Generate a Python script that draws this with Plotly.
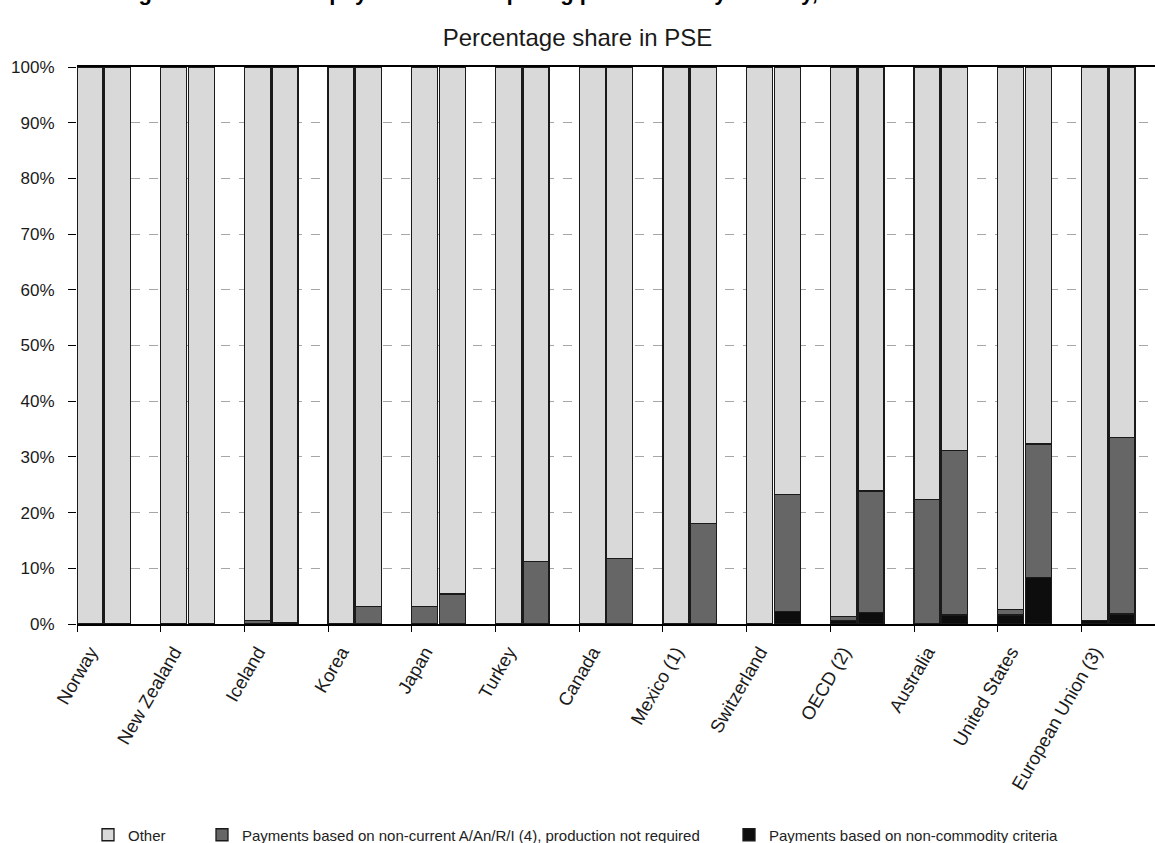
import plotly.graph_objects as go

# Countries, each shown with two bars (1986-88 and 2007-09)
countries = ["Norway", "New Zealand", "Iceland", "Korea", "Japan", "Turkey", "Canada",
             "Mexico (1)", "Switzerland", "OECD (2)", "Australia", "United States",
             "European Union (3)"]

# Percentage share in PSE, first period
noncommodity_p1 = [0, 0, 0, 0, 0, 0, 0, 0, 0, 0.6, 0, 1.6, 0.6]
noncurrent_p1 = [0, 0, 0.6, 0, 3.1, 0, 0, 0, 0, 0.7, 22.3, 1.0, 0]

# Percentage share in PSE, second period
noncommodity_p2 = [0, 0, 0.3, 0, 0, 0, 0, 0, 2.3, 2.1, 1.6, 8.3, 1.8]
noncurrent_p2 = [0, 0, 0, 3.1, 5.4, 11.2, 11.8, 18.1, 20.9, 21.8, 29.6, 24.0, 31.7]

other_p1 = [100 - a - b for a, b in zip(noncommodity_p1, noncurrent_p1)]
other_p2 = [100 - a - b for a, b in zip(noncommodity_p2, noncurrent_p2)]

y_ticks = [0, 10, 20, 30, 40, 50, 60, 70, 80, 90, 100]
y_tick_labels = [f"{v}%" for v in y_ticks]

FONT = "Liberation Sans, Arial, sans-serif"
BAR_W = 0.31
OFF1, OFF2 = 0.155, 0.485

n = len(countries)
xs = [i + OFF1 for i in range(n)] + [i + OFF2 for i in range(n)]

series = [
    ("Payments based on non-commodity criteria", noncommodity_p1 + noncommodity_p2, "#0d0d0d", "legend3"),
    ("Payments based on non-current A/An/R/I (4), production not required", noncurrent_p1 + noncurrent_p2, "#666666", "legend2"),
    ("Other", other_p1 + other_p2, "#d9d9d9", "legend"),
]

fig = go.Figure()
for name, vals, color, leg in series:
    fig.add_trace(go.Bar(
        x=xs, y=[v / 100 for v in vals], width=BAR_W, name=name,
        marker=dict(color=color, line=dict(color="#1a1a1a", width=1.3)),
        legend=leg, showlegend=True, hoverinfo="skip",
    ))

W, H = 1155, 843
ML, MT, MB = 77, 67, 219
plot_w = W - ML
plot_h = H - MT - MB
cat_px = 83.7
LEG_Y = 1 - 835 / H

legend_common = dict(orientation="h", xref="container", yref="container",
                     yanchor="middle", xanchor="left", itemwidth=30,
                     bgcolor="rgba(0,0,0,0)", font=dict(family=FONT, size=15, color="#222222"),
                     traceorder="normal", itemclick=False, visible=True)

fig.update_layout(
    width=W, height=H,
    margin=dict(l=ML, r=0, t=MT, b=MB, pad=0),
    barmode="stack",
    showlegend=True,
    paper_bgcolor="white", plot_bgcolor="white",
    font=dict(family=FONT, color="#222222"),
    title=dict(text="Percentage share in PSE", x=0.5, xref="container", xanchor="center",
               y=1 - 38 / H, yref="container", yanchor="middle",
               font=dict(family=FONT, size=24, color="#1a1a1a")),
    legend=dict(x=88 / W, y=LEG_Y, **legend_common),
    legend2=dict(x=202 / W, y=LEG_Y, **legend_common),
    legend3=dict(x=729 / W, y=LEG_Y, **legend_common),
    xaxis=dict(
        range=[0, plot_w / cat_px],
        tickmode="array",
        tickvals=[i + 0.16 for i in range(n)],
        ticktext=countries,
        tickangle=-60,
        ticks="",
        ticklabelstandoff=8,
        tickfont=dict(family=FONT, size=18.5, color="#1a1a1a"),
        showgrid=False, zeroline=False,
        showline=True, linecolor="#000000", linewidth=2, mirror=True,
        minor=dict(tickmode="array", tickvals=list(range(n)), ticks="outside",
                   ticklen=6, tickcolor="#000000", tickwidth=1, showgrid=False),
    ),
    yaxis=dict(
        range=[0, 1],
        tickmode="array",
        tickvals=[v / 100 for v in y_ticks],
        ticktext=y_tick_labels,
        ticks="outside", ticklen=8, tickcolor="#000000", tickwidth=1,
        ticklabelstandoff=10,
        tickfont=dict(family=FONT, size=17, color="#1a1a1a"),
        showgrid=True, gridcolor="#a6a6a6", gridwidth=1, griddash="dash",
        zeroline=False, showline=False,
    ),
    annotations=[dict(
        text="<b>Figure 1.7. Share of payments not requiring production by country, 1986-88 and 2007-09</b>",
        xref="paper", yref="paper", x=(W / 2 - ML) / plot_w, y=(H - MB - 7) / plot_h,
        xanchor="center", yanchor="bottom", showarrow=False,
        font=dict(family=FONT, size=22, color="#000000"),
    )],
)

fig.write_html("out.html")
